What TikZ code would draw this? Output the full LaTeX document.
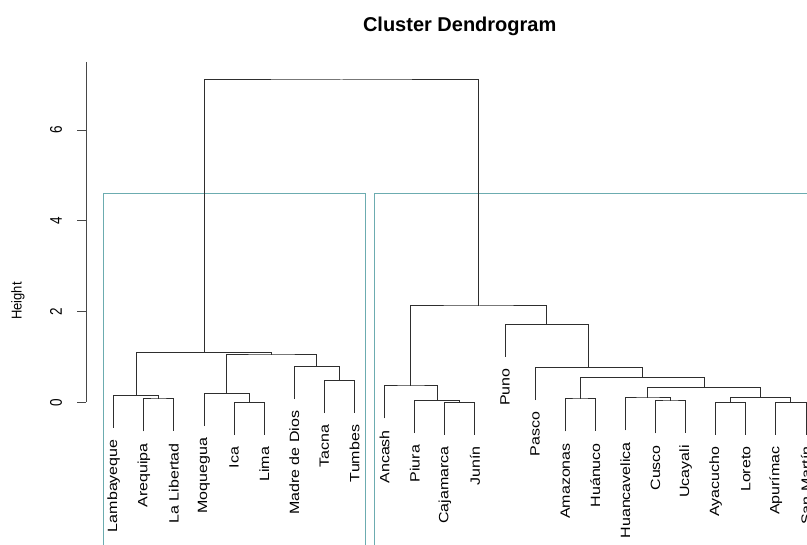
\documentclass[tikz,border=0pt]{standalone}
\usepackage{fontspec}
\setmainfont{Liberation Sans}
\definecolor{rectcol}{RGB}{108,172,176}
\begin{document}
\begin{tikzpicture}[x=1pt,y=-1pt,
  dline/.style={draw=black!82,line width=1pt},
  clrect/.style={draw=rectcol,line width=1.4pt},
  leaflab/.style={rotate=90,yscale=0.84,anchor=east,inner sep=0pt,font=\fontsize{16}{16}\selectfont},
  ticklab/.style={rotate=90,yscale=1.25,inner sep=0pt,font=\fontsize{13.5}{13.5}\selectfont},
  axisline/.style={draw=black!72,line width=1pt}]
\useasboundingbox (0,0) rectangle (807,545);
\clip (0,0) rectangle (807,545);
% title
\node[anchor=base,font=\bfseries\fontsize{20}{20}\selectfont] (title) at (459.7,31.7) {Cluster Dendrogram};
% axis
\coordinate (axtop) at (86,62);
\coordinate (axbot) at (86,402.5);
\draw[axisline] (axtop) -- (axbot);
\foreach \v/\yy in {0/402.5,2/311.7,4/220.9,6/130.1}{
  \coordinate (tk\v) at (86,\yy);
  \coordinate (tke\v) at (77,\yy);
  \draw[axisline] (tk\v) -- (tke\v);
  \node[ticklab] (tl\v) at (56,\yy) {\v};
}
\node[rotate=90,yscale=1.1,inner sep=0pt,font=\fontsize{13}{13}\selectfont] (ylab) at (18,301) {Height};
% cluster rectangles
\draw[clrect] (103.5,600) -- (103.5,193.5) -- (365.5,193.5) -- (365.5,600);
\draw[clrect] (374.5,600) -- (374.5,193.5) -- (830,193.5);
% leaves
\foreach \i/\xx/\yy/\name in {
 1/113.7/427.8/Lambayeque, 2/143.8/431.5/Arequipa, 3/173.9/431.5/La Libertad,
 4/204.0/426.2/Moquegua, 5/234.1/435.2/Ica, 6/264.2/435.2/Lima,
 7/294.3/399.2/Madre de Dios, 8/324.4/413.2/Tacna, 9/354.5/413.2/Tumbes,
 10/384.6/418.5/Ancash, 11/414.7/433.2/Piura, 12/444.8/434.8/Cajamarca,
 13/474.9/434.8/Junín, 14/505.0/356.8/Puno, 15/535.1/400.2/Pasco,
 16/565.2/431.5/Amazonas, 17/595.3/431.5/Huánuco, 18/625.4/430.5/Huancavelica,
 19/655.5/433.5/Cusco, 20/685.6/433.5/Ucayali, 21/715.7/434.8/Ayacucho,
 22/745.8/434.8/Loreto, 23/775.9/434.8/Apurímac, 24/806.0/434.8/San Martín}{
  \coordinate (l\i) at (\xx,\yy);
  \node[leaflab] (t\i) at (\xx,\yy+11.5) {\name};
}
% merges
\coordinate (mAL) at (158.85,399);
\coordinate (mLam) at (136.275,395.3);
\coordinate (mIL) at (249.15,402.7);
\coordinate (mMoq) at (226.575,393.7);
\coordinate (mTT) at (339.45,380.7);
\coordinate (mMdD) at (316.875,366.7);
\coordinate (mLR) at (271.725,355);
\coordinate (mLeft) at (204,352.7);
\coordinate (mCJ) at (459.85,402.3);
\coordinate (mPCJ) at (437.275,400.7);
\coordinate (mAnc) at (410.94,386);
\coordinate (mCU) at (670.55,401);
\coordinate (mHcv) at (647.975,398);
\coordinate (mAyL) at (730.75,402.3);
\coordinate (mApS) at (790.95,402.3);
\coordinate (mAyAp) at (760.85,397.7);
\coordinate (mHcAy) at (704.41,387.7);
\coordinate (mAmH) at (580.25,399);
\coordinate (mAmHc) at (642.33,377.7);
\coordinate (mPasco) at (588.72,367.7);
\coordinate (mPuno) at (546.86,324.3);
\coordinate (mRight) at (478.9,306);
\coordinate (mRoot) at (341.45,80);
\draw[dline] (l2) |- (mAL) -| (l3);
\draw[dline] (l1) |- (mLam) -| (mAL);
\draw[dline] (l5) |- (mIL) -| (l6);
\draw[dline] (l4) |- (mMoq) -| (mIL);
\draw[dline] (l8) |- (mTT) -| (l9);
\draw[dline] (l7) |- (mMdD) -| (mTT);
\draw[dline] (mMoq) |- (mLR) -| (mMdD);
\draw[dline] (mLam) |- (mLeft) -| (mLR);
\draw[dline] (l12) |- (mCJ) -| (l13);
\draw[dline] (l11) |- (mPCJ) -| (mCJ);
\draw[dline] (l10) |- (mAnc) -| (mPCJ);
\draw[dline] (l19) |- (mCU) -| (l20);
\draw[dline] (l18) |- (mHcv) -| (mCU);
\draw[dline] (l21) |- (mAyL) -| (l22);
\draw[dline] (l23) |- (mApS) -| (l24);
\draw[dline] (mAyL) |- (mAyAp) -| (mApS);
\draw[dline] (mHcv) |- (mHcAy) -| (mAyAp);
\draw[dline] (l16) |- (mAmH) -| (l17);
\draw[dline] (mAmH) |- (mAmHc) -| (mHcAy);
\draw[dline] (l15) |- (mPasco) -| (mAmHc);
\draw[dline] (l14) |- (mPuno) -| (mPasco);
\draw[dline] (mAnc) |- (mRight) -| (mPuno);
\draw[dline] (mLeft) |- (mRoot) -| (mRight);
\end{tikzpicture}
\end{document}
